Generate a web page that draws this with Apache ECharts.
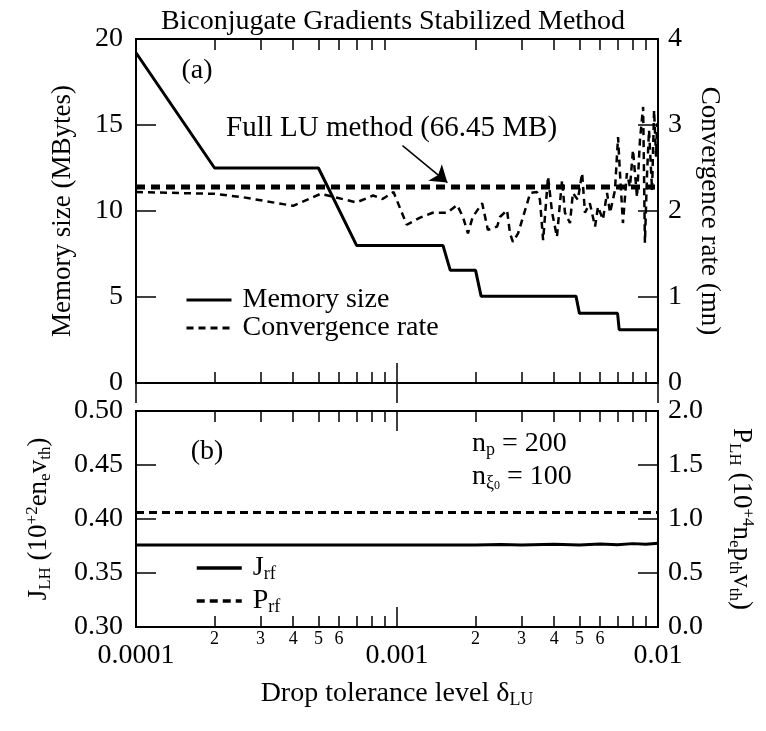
<!DOCTYPE html>
<html>
<head>
<meta charset="utf-8">
<script src="https://cdn.jsdelivr.net/npm/echarts@6/dist/echarts.min.js"></script>
<style>
html, body { margin: 0; padding: 0; background: #fff; }
#chart { width: 766px; height: 731px; }
</style>
</head>
<body>
<div id="chart"></div>
<script>
// (a) memory size vs drop tolerance
var memDelta = [1e-4, 2e-4, 5e-4, 7e-4, 1.5e-3, 1.6e-3, 2.0e-3, 2.1e-3, 4.85e-3, 5e-3, 7e-3, 7.1e-3, 1e-2];
var memSize = [19.2, 12.5, 12.5, 8.0, 8.0, 6.55, 6.55, 5.05, 5.05, 4.05, 4.05, 3.1, 3.1];

// (a) convergence rate (mn)
var convDelta = [1e-4, 2e-4, 2.57e-4, 4e-4, 5.1e-4, 7e-4, 8.1e-4, 8.8e-4, 9.7e-4, 1.09e-3,
  1.22e-3, 1.37e-3, 1.56e-3, 1.70e-3, 1.79e-3, 1.87e-3, 1.95e-3, 2.12e-3, 2.23e-3, 2.42e-3,
  2.48e-3, 2.64e-3, 2.71e-3, 2.78e-3, 2.91e-3, 3.04e-3, 3.24e-3, 3.44e-3, 3.53e-3, 3.63e-3,
  3.79e-3, 3.93e-3, 4.10e-3, 4.29e-3, 4.40e-3, 4.60e-3, 4.72e-3, 4.93e-3, 5.12e-3, 5.25e-3,
  5.48e-3, 5.74e-3, 5.89e-3, 6.15e-3, 6.38e-3, 6.55e-3, 6.84e-3, 7.03e-3, 7.15e-3, 7.34e-3,
  7.60e-3, 7.81e-3, 8.02e-3, 8.31e-3, 8.53e-3, 8.77e-3, 8.91e-3, 9.08e-3, 9.24e-3, 9.49e-3,
  9.66e-3, 9.83e-3, 9.92e-3];
var convRate = [2.22, 2.20, 2.16, 2.06, 2.20, 2.10, 2.18, 2.14, 2.22, 1.84,
  1.92, 1.98, 1.98, 2.07, 1.93, 1.74, 1.93, 2.09, 1.78, 1.82,
  1.93, 2.01, 1.74, 1.64, 1.74, 1.93, 2.21, 2.22, 2.13, 1.66,
  2.40, 1.98, 1.70, 2.36, 1.98, 1.86, 2.21, 2.13, 2.44, 1.98,
  2.09, 1.82, 2.05, 1.90, 2.21, 1.98, 2.24, 2.86, 2.44, 1.86,
  2.44, 2.28, 2.71, 2.16, 2.83, 3.21, 1.63, 2.44, 2.94, 2.24,
  3.17, 2.63, 3.02];

// full LU reference level (convergence rate)
var fullLuDelta = [1e-4, 1e-2];
var fullLuRate = [2.28, 2.28];

// (b) J_rf and P_rf
var jDelta = [1e-4, 2e-3, 2.5e-3, 3e-3, 4e-3, 5e-3, 6e-3, 7e-3, 8e-3, 9e-3, 1e-2];
var jRf = [0.376, 0.376, 0.3765, 0.376, 0.3766, 0.376, 0.3768, 0.3762, 0.3772, 0.3766, 0.3775];
var pDelta = [1e-4, 1e-2];
var pRf = [1.06, 1.06];

var majorTickLabels = { '-4': '0.0001', '-3': '0.001', '-2': '0.01' };
var minorTicks = [2e-4, 3e-4, 4e-4, 5e-4, 6e-4, 7e-4, 8e-4, 9e-4, 2e-3, 3e-3, 4e-3, 5e-3, 6e-3, 7e-3, 8e-3, 9e-3];
var minorLabels = [2e-4, 3e-4, 4e-4, 5e-4, 6e-4, 2e-3, 3e-3, 4e-3, 5e-3, 6e-3];

var FONT = 'Liberation Serif';

function zip(xs, ys) {
  return xs.map(function (x, i) { return [x, ys[i]]; });
}

function xAxisDef(grid, pos, minor, labels) {
  var ax = {
    type: 'log', logBase: 10, min: 1e-4, max: 1e-2, gridIndex: grid, position: pos,
    axisLine: { show: true, lineStyle: { color: '#000', width: 2 } },
    splitLine: { show: false },
    axisTick: { show: true, inside: true, length: minor ? 11 : 20, lineStyle: { color: '#000', width: 1.5 } },
    axisLabel: { show: false }
  };
  if (minor) {
    ax.axisTick.customValues = minorTicks;
    if (labels) {
      ax.axisLabel = {
        show: true, customValues: minorLabels, margin: 3, hideOverlap: false,
        fontFamily: FONT, fontSize: 18, color: '#000',
        formatter: function (v) {
          var e = Math.floor(Math.log10(v) + 1e-9);
          return String(Math.round(v / Math.pow(10, e)));
        }
      };
    }
  } else if (labels) {
    ax.axisLabel = {
      show: true, margin: 15, fontFamily: FONT, fontSize: 28, color: '#000',
      showMinLabel: true, showMaxLabel: true, hideOverlap: false,
      formatter: function (v) { return majorTickLabels[String(Math.round(Math.log10(v)))] || ''; }
    };
  }
  return ax;
}

function yAxisDef(grid, pos, min, max, interval, digits, name, nameGap, rot) {
  return {
    type: 'value', gridIndex: grid, position: pos, min: min, max: max, interval: interval,
    name: name, nameLocation: 'middle', nameGap: nameGap, nameRotate: rot,
    nameTextStyle: { fontFamily: FONT, fontSize: 27, color: '#000', rich: nameRich },
    axisLine: { show: true, lineStyle: { color: '#000', width: 2 } },
    splitLine: { show: false },
    axisTick: { show: true, inside: true, length: 20, lineStyle: { color: '#000', width: 1.5 } },
    axisLabel: {
      show: true, margin: pos === 'left' ? 13 : 10, fontFamily: FONT, fontSize: 28, color: '#000',
      formatter: function (v) { return v.toFixed(digits); }
    }
  };
}

function richSet(size, subSize) {
  return {
    m: { fontFamily: FONT, fontSize: size, lineHeight: 30, verticalAlign: 'middle', color: '#000' },
    s: { fontFamily: FONT, fontSize: subSize, lineHeight: 14, verticalAlign: 'bottom', color: '#000' },
    p: { fontFamily: FONT, fontSize: subSize, lineHeight: 14, verticalAlign: 'top', color: '#000' },
    ss: { fontFamily: FONT, fontSize: 12, lineHeight: 8, verticalAlign: 'bottom', color: '#000' }
  };
}
var nameRich = richSet(27, 17);
var textRich = richSet(28, 18);

var hiddenSymbol = { opacity: 0, color: 'rgba(0,0,0,0)', borderWidth: 0 };

var chart = echarts.init(document.getElementById('chart'));

var option = {
  animation: false,
  backgroundColor: '#fff',
  grid: [
    { left: 136, right: 108, top: 39, height: 344, show: true, borderColor: '#000', borderWidth: 2, outerBoundsMode: 'none' },
    { left: 136, right: 108, top: 411, height: 216, show: true, borderColor: '#000', borderWidth: 2, outerBoundsMode: 'none' }
  ],
  xAxis: [
    xAxisDef(0, 'bottom', false, false),
    xAxisDef(0, 'top', false, false),
    xAxisDef(0, 'bottom', true, false),
    xAxisDef(0, 'top', true, false),
    Object.assign(xAxisDef(1, 'bottom', false, true), {
      name: '{m|Drop tolerance level δ}{s|LU}', nameLocation: 'middle', nameGap: 52,
      nameTextStyle: { rich: textRich }
    }),
    xAxisDef(1, 'top', false, false),
    xAxisDef(1, 'bottom', true, true),
    xAxisDef(1, 'top', true, false)
  ],
  yAxis: [
    yAxisDef(0, 'left', 0, 20, 5, 0, 'Memory size (MBytes)', 60, 90),
    yAxisDef(0, 'right', 0, 4, 1, 0, 'Convergence rate (mn)', 38, -90),
    yAxisDef(1, 'left', 0.3, 0.5, 0.05, 2, '{m|J}{s|LH}{m| (10}{p|+2}{m|en}{s|e}{m|v}{s|th}{m|)}', 82, 90),
    yAxisDef(1, 'right', 0, 2, 0.5, 1, '{m|P}{s|LH}{m| (10}{p|+4}{m|n}{s|e}{m|p}{s|th}{m|v}{s|th}{m|)}', 68, -90)
  ],
  legend: [
    {
      data: [
        { name: 'Memory size', lineStyle: { width: 3 } },
        { name: 'Convergence rate', lineStyle: { width: 3 } }
      ],
      orient: 'vertical', left: 185, top: 286,
      padding: 0, itemGap: 0, itemWidth: 45, itemHeight: 14, selectedMode: false,
      itemStyle: hiddenSymbol,
      textStyle: { fontFamily: FONT, fontSize: 28, lineHeight: 28, color: '#000', padding: [0, 0, 0, 6] }
    },
    {
      data: [
        { name: 'Jrf', lineStyle: { width: 3.5 } },
        { name: 'Prf', lineStyle: { width: 3.5 } }
      ],
      orient: 'vertical', left: 195, top: 554,
      padding: 0, itemGap: 4, itemWidth: 45, itemHeight: 14, selectedMode: false,
      itemStyle: hiddenSymbol,
      formatter: function (n) { return n === 'Jrf' ? '{m|J}{s|rf}' : '{m|P}{s|rf}'; },
      textStyle: { color: '#000', padding: [0, 0, 0, 6], rich: textRich }
    }
  ],
  graphic: [
    { type: 'text', x: 393, y: 22, style: { text: 'Biconjugate Gradients Stabilized Method', align: 'center', verticalAlign: 'middle', font: '28px "Liberation Serif"', fill: '#000' } },
    { type: 'text', x: 197, y: 71, style: { text: '(a)', align: 'center', verticalAlign: 'middle', font: '28px "Liberation Serif"', fill: '#000' } },
    { type: 'text', x: 207, y: 452, style: { text: '(b)', align: 'center', verticalAlign: 'middle', font: '28px "Liberation Serif"', fill: '#000' } },
    { type: 'text', x: 226, y: 128, style: { text: 'Full LU method (66.45 MB)', align: 'left', verticalAlign: 'middle', font: '29px "Liberation Serif"', fill: '#000' } },
    { type: 'text', x: 472, y: 444, style: { text: '{m|n}{s|p}{m| = 200}', rich: textRich, align: 'left', verticalAlign: 'middle' } },
    { type: 'text', x: 472, y: 477, style: { text: '{m|n}{s|ξ}{ss|0}{m| = 100}', rich: textRich, align: 'left', verticalAlign: 'middle' } }
  ],
  series: [
    {
      name: 'Memory size', type: 'line', xAxisIndex: 0, yAxisIndex: 0, symbol: 'none',
      data: zip(memDelta, memSize), lineStyle: { color: '#000', width: 3 }, itemStyle: { color: '#000' }
    },
    {
      name: 'Convergence rate', type: 'line', xAxisIndex: 0, yAxisIndex: 1, symbol: 'none',
      data: zip(convDelta, convRate), lineStyle: { color: '#000', width: 2.5, type: [7, 5] }, itemStyle: { color: '#000' }
    },
    {
      name: 'Full LU', type: 'line', xAxisIndex: 0, yAxisIndex: 1, symbol: 'none',
      data: zip(fullLuDelta, fullLuRate), lineStyle: { color: '#000', width: 5, type: [9, 6] },
      markLine: {
        silent: true, symbol: ['none', 'arrow'], symbolSize: 16, animation: false,
        label: { show: false },
        itemStyle: { color: '#000' },
        lineStyle: { color: '#000', width: 1.5, type: 'solid' },
        data: [[{ coord: [1.05e-3, 2.76] }, { coord: [1.56e-3, 2.33] }]]
      }
    },
    {
      name: 'Jrf', type: 'line', xAxisIndex: 4, yAxisIndex: 2, symbol: 'none',
      data: zip(jDelta, jRf), lineStyle: { color: '#000', width: 3 }, itemStyle: { color: '#000' }
    },
    {
      name: 'Prf', type: 'line', xAxisIndex: 4, yAxisIndex: 3, symbol: 'none',
      data: zip(pDelta, pRf), lineStyle: { color: '#000', width: 3, type: [8, 5] }, itemStyle: { color: '#000' }
    }
  ]
};

chart.setOption(option);
</script>
</body>
</html>
